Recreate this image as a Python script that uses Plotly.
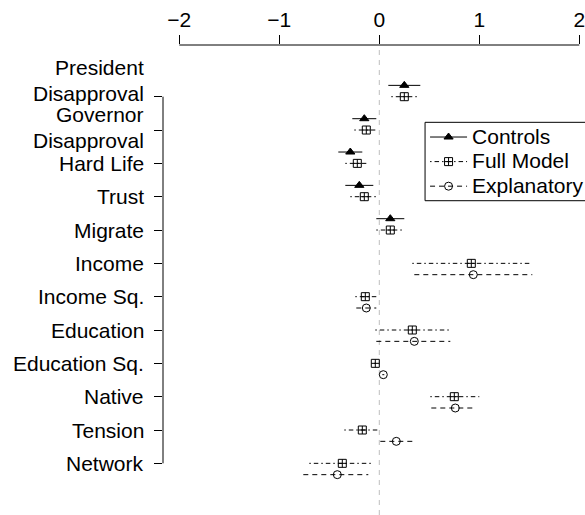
import plotly.graph_objects as go

# ---------------- data ----------------
categories = ["President Disapproval", "Governor Disapproval", "Hard Life", "Trust",
              "Migrate", "Income", "Income Sq.", "Education", "Education Sq.",
              "Native", "Tension", "Network"]
# label lines as drawn on the left axis
label_lines = [["President", "Disapproval"], ["Governor", "Disapproval"], ["Hard Life"],
               ["Trust"], ["Migrate"], ["Income"], ["Income Sq."], ["Education"],
               ["Education Sq."], ["Native"], ["Tension"], ["Network"]]

controls_rows = [1, 2, 3, 4, 5]
controls_est = [0.25, -0.15, -0.29, -0.20, 0.11]
controls_lo = [0.09, -0.27, -0.41, -0.34, -0.03]
controls_hi = [0.41, -0.03, -0.17, -0.06, 0.25]

full_rows = [1, 2, 3, 4, 5, 6, 7, 8, 9, 10, 11, 12]
full_est = [0.25, -0.13, -0.22, -0.15, 0.11, 0.92, -0.14, 0.33, -0.04, 0.75, -0.17, -0.37]
full_lo = [0.12, -0.25, -0.34, -0.29, -0.03, 0.33, -0.24, -0.04, -0.05, 0.51, -0.35, -0.70]
full_hi = [0.38, -0.01, -0.10, -0.01, 0.25, 1.51, -0.03, 0.71, -0.03, 1.00, 0.01, -0.06]

explan_rows = [6, 7, 8, 9, 10, 11, 12]
explan_est = [0.94, -0.13, 0.35, 0.04, 0.76, 0.17, -0.42]
explan_lo = [0.35, -0.23, -0.03, 0.03, 0.52, 0.01, -0.76]
explan_hi = [1.53, -0.03, 0.71, 0.05, 0.97, 0.33, -0.11]

x_ticks = [-2, -1, 0, 1, 2]

# ---------------- styling ----------------
FONT = "Liberation Sans, Arial, Helvetica, sans-serif"
FS = 21
series = [
    dict(name="Controls", rows=controls_rows, est=controls_est, lo=controls_lo, hi=controls_hi,
         off=-0.34, dash="solid", symbol="triangle-up", size=8),
    dict(name="Full Model", rows=full_rows, est=full_est, lo=full_lo, hi=full_hi,
         off=0.0, dash="1.5px,3px,4.5px,3px", symbol="square-cross-open", size=8),
    dict(name="Explanatory", rows=explan_rows, est=explan_est, lo=explan_lo, hi=explan_hi,
         off=0.34, dash="5px,4px", symbol="circle-open", size=8),
]

fig = go.Figure()

# interval lines
for s in series:
    xs, ys = [], []
    for r, lo, hi in zip(s["rows"], s["lo"], s["hi"]):
        xs += [lo, hi, None]
        ys += [r + s["off"], r + s["off"], None]
    fig.add_trace(go.Scatter(x=xs, y=ys, mode="lines", showlegend=False,
                             legendgroup=s["name"], hoverinfo="skip",
                             line=dict(color="black", width=1, dash=s["dash"])))

# point estimates (also carry the legend)
for s in series:
    xs, ys = [], []
    for r, e in zip(s["rows"], s["est"]):
        xs += [e, None]
        ys += [r + s["off"], None]
    fig.add_trace(go.Scatter(x=xs, y=ys, mode="lines+markers",
                             name='<span style="font-size:%dpx">%s</span>' % (FS, s["name"]),
                             legendgroup=s["name"], connectgaps=False,
                             line=dict(color="black", width=1, dash=s["dash"]),
                             marker=dict(symbol=s["symbol"], size=s["size"], color="black",
                                         line=dict(color="black", width=1))))

# zero reference line
fig.add_shape(type="line", xref="x", yref="paper", x0=0, x1=0, y0=0, y1=1,
              line=dict(color="#bebebe", width=1, dash="5px,5px"), layer="below")
# top axis line (only between first and last tick)
fig.add_shape(type="line", xref="x", yref="paper", x0=x_ticks[0], x1=x_ticks[-1], y0=1, y1=1,
              line=dict(color="black", width=1))
# left axis line (only between first and last row)
fig.add_shape(type="line", xref="paper", yref="y", x0=0, x1=0, y0=1, y1=len(categories),
              line=dict(color="black", width=1))
# legend frame (runs off the right edge like the original)
fig.add_shape(type="rect", xref="paper", yref="paper", x0=0.621, x1=1.06, y0=0.6687, y1=0.8355,
              line=dict(color="black", width=1), fillcolor="white", layer="above")

# left labels
line_gap = 0.77  # in row units between the two lines of a two-line label
two_line_center = {0: 0.512, 1: 1.918}
for i, lines in enumerate(label_lines):
    row = i + 1
    if len(lines) == 1:
        ys = [row]
    else:
        c = two_line_center[i]
        ys = [c - line_gap / 2, c + line_gap / 2]
    for txt, y in zip(lines, ys):
        fig.add_annotation(text=txt, xref="paper", yref="y", x=0, y=y,
                           xanchor="right", yanchor="middle", xshift=-17,
                           showarrow=False, font=dict(family=FONT, size=FS, color="black"))

fig.update_layout(
    width=585, height=515,
    margin=dict(l=163, r=0, t=45, b=0, autoexpand=False),
    paper_bgcolor="white", plot_bgcolor="white",
    font=dict(family=FONT, size=FS, color="black"),
    showlegend=True,
    legend=dict(x=0.621, y=0.841, xanchor="left", yanchor="top",
                bgcolor="rgba(0,0,0,0)", borderwidth=0,
                font=dict(family=FONT, size=16.6, color="black"),
                traceorder="normal", itemwidth=37, tracegroupgap=0),
    xaxis=dict(side="top", range=[-2.163, 2.057], tickvals=x_ticks,
               ticks="outside", ticklen=9, tickwidth=1, tickcolor="black",
               ticklabeloverflow="allow",
               showgrid=False, zeroline=False, showline=False,
               tickfont=dict(family=FONT, size=FS, color="black")),
    yaxis=dict(range=[13.55, -0.551], tickvals=list(range(1, len(categories) + 1)),
               ticks="outside", ticklen=8, tickwidth=1, tickcolor="black",
               showticklabels=False, showgrid=False, zeroline=False, showline=False),
)

fig.write_html("out.html",
               config={"displayModeBar": False},
               post_script="document.body.style.margin='0';"
                           "document.documentElement.style.overflow='hidden';")
